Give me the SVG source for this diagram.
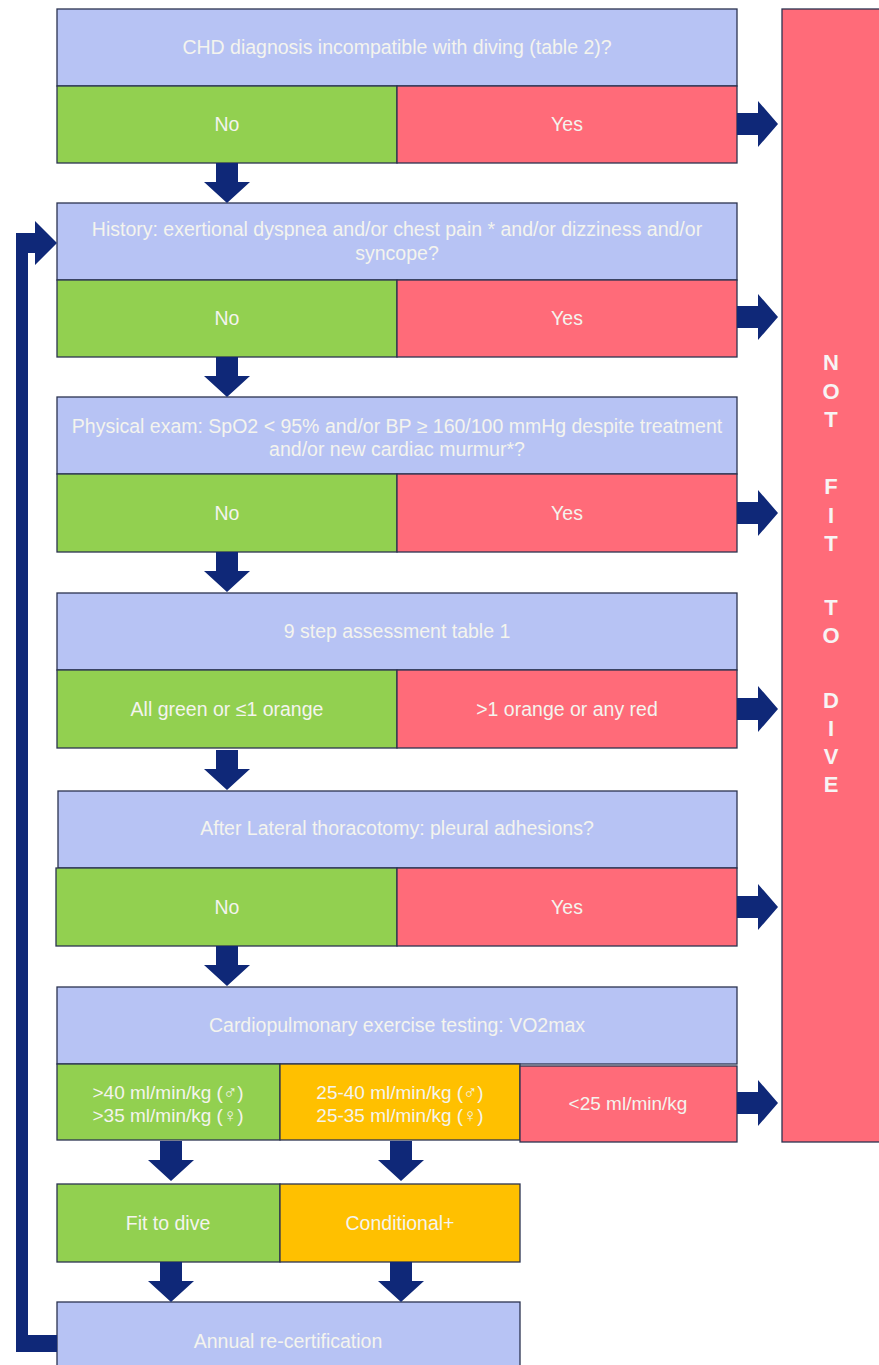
<svg xmlns="http://www.w3.org/2000/svg" width="879" height="1365" viewBox="0 0 879 1365">
<defs>
<style>
.hdr{fill:#b7c3f4;stroke:#2b3350;stroke-width:1.3}
.g{fill:#92d050;stroke:#2b3350;stroke-width:1.3}
.r{fill:#ff6b79;stroke:#2b3350;stroke-width:1.3}
.o{fill:#ffc000;stroke:#2b3350;stroke-width:1.3}
.t{font-family:"Liberation Sans",Arial,sans-serif;font-size:19.5px;fill:#f4f4ee;text-anchor:middle}
.s{font-size:19px}
.big{font-family:"Liberation Sans",Arial,sans-serif;font-size:22px;font-weight:bold;fill:#f7f4f4;text-anchor:middle}
.arrow{fill:#0f2878}
</style>
<path id="da" d="M-11 0 H11 V19 H23 L0 40 L-23 19 H-11 Z"/>
<path id="ra" d="M0 -11 V11 H21 V23 L41 0 L21 -23 V-11 Z"/>
</defs>
<rect width="879" height="1365" fill="#ffffff"/>

<g id="not-fit">
<rect x="782" y="9" width="110" height="1133" class="r"/>
<text class="big" x="831" y="370">N</text>
<text class="big" x="831" y="399">O</text>
<text class="big" x="831" y="427">T</text>
<text class="big" x="831" y="494">F</text>
<text class="big" x="831" y="523">I</text>
<text class="big" x="831" y="551">T</text>
<text class="big" x="831" y="615">T</text>
<text class="big" x="831" y="643">O</text>
<text class="big" x="831" y="708">D</text>
<text class="big" x="831" y="736">I</text>
<text class="big" x="831" y="764">V</text>
<text class="big" x="831" y="792">E</text>
</g>

<g id="q1">
<rect x="57" y="9" width="680" height="77" class="hdr"/>
<text class="t" x="397" y="54">CHD diagnosis incompatible with diving (table 2)?</text>
<rect x="57" y="86" width="340" height="77" class="g"/>
<rect x="397" y="86" width="340" height="77" class="r"/>
<text class="t" x="227" y="131">No</text>
<text class="t" x="567" y="131">Yes</text>
</g>

<g id="q2">
<rect x="57" y="203" width="680" height="77" class="hdr"/>
<text class="t" x="397" y="236">History: exertional dyspnea and/or chest pain * and/or dizziness and/or</text>
<text class="t" x="397" y="260">syncope?</text>
<rect x="57" y="280" width="340" height="77" class="g"/>
<rect x="397" y="280" width="340" height="77" class="r"/>
<text class="t" x="227" y="325">No</text>
<text class="t" x="567" y="325">Yes</text>
</g>

<g id="q3">
<rect x="57" y="397" width="680" height="77" class="hdr"/>
<text class="t" x="397" y="433">Physical exam: SpO2 &lt; 95% and/or BP ≥ 160/100 mmHg despite treatment</text>
<text class="t" x="397" y="456">and/or new cardiac murmur*?</text>
<rect x="57" y="474" width="340" height="78" class="g"/>
<rect x="397" y="474" width="340" height="78" class="r"/>
<text class="t" x="227" y="520">No</text>
<text class="t" x="567" y="520">Yes</text>
</g>

<g id="q4">
<rect x="57" y="593" width="680" height="77" class="hdr"/>
<text class="t" x="397" y="638">9 step assessment table 1</text>
<rect x="57" y="670" width="340" height="78" class="g"/>
<rect x="397" y="670" width="340" height="78" class="r"/>
<text class="t" x="227" y="716">All green or ≤1 orange</text>
<text class="t" x="567" y="716">&gt;1 orange or any red</text>
</g>

<g id="q5">
<rect x="58" y="791" width="679" height="77" class="hdr"/>
<text class="t" x="397" y="835">After Lateral thoracotomy: pleural adhesions?</text>
<rect x="56" y="868" width="341" height="78" class="g"/>
<rect x="397" y="868" width="340" height="78" class="r"/>
<text class="t" x="227" y="914">No</text>
<text class="t" x="567" y="914">Yes</text>
</g>

<g id="q6">
<rect x="57" y="987" width="680" height="77" class="hdr"/>
<text class="t" x="397" y="1032">Cardiopulmonary exercise testing: VO2max</text>
<rect x="57" y="1064" width="223" height="76" class="g"/>
<rect x="280" y="1064" width="240" height="76" class="o"/>
<rect x="520" y="1066" width="217" height="76" class="r"/>
<text class="t s" x="168" y="1099">&gt;40 ml/min/kg  (♂)</text>
<text class="t s" x="168" y="1122">&gt;35 ml/min/kg (♀)</text>
<text class="t s" x="400" y="1099">25-40 ml/min/kg (♂)</text>
<text class="t s" x="400" y="1122">25-35 ml/min/kg (♀)</text>
<text class="t s" x="628" y="1110">&lt;25 ml/min/kg</text>
</g>

<g id="outcome">
<rect x="57" y="1184" width="223" height="78" class="g"/>
<rect x="280" y="1184" width="240" height="78" class="o"/>
<text class="t" x="168" y="1230">Fit to dive</text>
<text class="t" x="400" y="1230">Conditional+</text>
</g>

<g id="annual">
<rect x="57" y="1302" width="463" height="80" class="hdr"/>
<text class="t" x="288" y="1348">Annual re-certification</text>
</g>

<g id="connectors" class="arrow">
<use href="#da" x="227" y="163"/>
<use href="#da" x="227" y="357"/>
<use href="#da" x="227" y="552"/>
<use href="#da" x="227" y="750"/>
<use href="#da" x="227" y="946"/>
<use href="#da" x="171" y="1141"/>
<use href="#da" x="401" y="1141"/>
<use href="#da" x="171" y="1262"/>
<use href="#da" x="401" y="1262"/>
<use href="#ra" x="737" y="124"/>
<use href="#ra" x="737" y="317"/>
<use href="#ra" x="737" y="513"/>
<use href="#ra" x="737" y="709"/>
<use href="#ra" x="737" y="907"/>
<use href="#ra" x="737" y="1103"/>
<path d="M57 1335 H28 V253 H35 V265 L57 243 L35 221 V233 H16 V1352 H57 Z"/>
</g>
</svg>
